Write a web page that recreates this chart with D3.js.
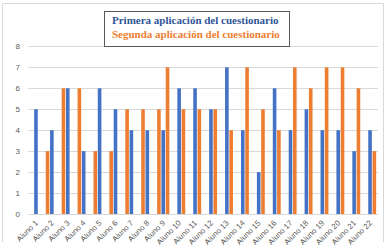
<!DOCTYPE html>
<html>
<head>
<meta charset="utf-8">
<script src="https://cdn.jsdelivr.net/npm/d3@7"></script>
<style>
  body { margin: 0; background: #fff; }
  svg { display: block; }
</style>
</head>
<body>
<div id="chart"></div>
<script>
// values
var alunos = ["Aluno 1", "Aluno 2", "Aluno 3", "Aluno 4", "Aluno 5", "Aluno 6", "Aluno 7", "Aluno 8",
    "Aluno 9", "Aluno 10", "Aluno 11", "Aluno 12", "Aluno 13", "Aluno 14", "Aluno 15", "Aluno 16",
    "Aluno 17", "Aluno 18", "Aluno 19", "Aluno 20", "Aluno 21", "Aluno 22"];
var primera = [5, 4, 6, 3, 6, 5, 4, 4, 4, 6, 6, 5, 7, 4, 2, 6, 4, 5, 4, 4, 3, 4];
var segunda = [3, 6, 6, 3, 3, 5, 5, 5, 7, 5, 5, 5, 4, 7, 5, 4, 7, 6, 7, 7, 6, 3];
var yTicks = [0, 1, 2, 3, 4, 5, 6, 7, 8];
var serieNames = ["Primera aplicación del cuestionario", "Segunda aplicación del cuestionario"];
// in the source the orange bars of the first 8 students sit one slot later, left of the blue bar
var cambio = 8;

var width = 386,
    height = 250,
    margin = {top: 46.4, right: 8, bottom: 36, left: 28};

var svg = d3.select("#chart")
    .append("svg")
    .attr("width", width)
    .attr("height", height)

// outer frame (no bottom edge visible)
svg.append("path")
    .attr("d", "M2.5,242 V3.5 H383.5 V242")
    .attr("fill", "none")
    .attr("stroke", "#d9d9d9")
    .attr("stroke-width", 1)

var x = d3.scaleBand()
    .domain(alunos)
    .range([margin.left, width - margin.right]);

var y = d3.scaleLinear()
    .domain([0, 8])
    .range([height - margin.bottom, margin.top]);

var side = d3.scaleBand()
    .domain(["antes", "centro", "despues"])
    .range([-6.45, 6.45]);

var bw = 3.6;

// gridlines
svg.append("g")
    .selectAll("line")
    .data(yTicks)
    .enter()
    .append("line")
    .attr("x1", margin.left)
    .attr("x2", width - margin.right)
    .attr("y1", function (d) { return Math.round(y(d)) + 0.5; })
    .attr("y2", function (d) { return Math.round(y(d)) + 0.5; })
    .attr("stroke", "#d9d9d9")
    .attr("stroke-width", 1)

svg.append("g")
    .selectAll("text")
    .data(yTicks)
    .enter()
    .append("text")
    .attr("x", 20)
    .attr("y", function (d) { return y(d); })
    .attr("dy", "0.35em")
    .attr("text-anchor", "end")
    .style("font-family", "'Liberation Sans', Arial, sans-serif")
    .style("font-size", "8px")
    .style("fill", "#595959")
    .text(function (d) { return d; })

svg.append("clipPath")
    .attr("id", "plot")
    .append("rect")
    .attr("x", margin.left)
    .attr("y", 0)
    .attr("width", width - margin.right - margin.left)
    .attr("height", height)

var bars = svg.append("g").attr("clip-path", "url(#plot)");

function center(cat, s) {
    return x(cat) + x.bandwidth() / 2 + side(s) + side.bandwidth() / 2;
}

bars.selectAll("rect.primera")
    .data(primera)
    .enter()
    .append("rect")
    .attr("class", "primera")
    .attr("x", function (d, i) { return center(alunos[i], "centro") - bw / 2; })
    .attr("y", function (d) { return y(d); })
    .attr("width", bw)
    .attr("height", function (d) { return y(0) - y(d); })
    .style("fill", "#4472C4")

bars.selectAll("rect.segunda")
    .data(segunda)
    .enter()
    .append("rect")
    .attr("class", "segunda")
    .attr("x", function (d, i) {
        var c = i < cambio ? center(alunos[i + 1], "antes") : center(alunos[i], "despues");
        return c - bw / 2;
    })
    .attr("y", function (d) { return y(d); })
    .attr("width", bw)
    .attr("height", function (d) { return y(0) - y(d); })
    .style("fill", "#ED7D31")

// x labels, rotated
svg.append("g")
    .selectAll("text")
    .data(alunos)
    .enter()
    .append("text")
    .attr("transform", function (d) {
        return "translate(" + (x(d) + x.bandwidth() / 2 + 2.5) + "," + (y(0) + 9.5) + ") rotate(-45)";
    })
    .attr("text-anchor", "end")
    .style("font-family", "'Liberation Sans', Arial, sans-serif")
    .style("font-size", "7.8px")
    .style("fill", "#595959")
    .text(function (d) { return d; })

// legend box
var legend = svg.append("g");

legend.append("rect")
    .attr("x", 104.5)
    .attr("y", 11.5)
    .attr("width", 185)
    .attr("height", 35)
    .style("fill", "#fff")
    .style("stroke", "#595959")
    .style("stroke-width", 1)

legend.selectAll("text")
    .data(serieNames)
    .enter()
    .append("text")
    .attr("x", 112)
    .attr("y", function (d, i) { return 24 + i * 13.5; })
    .style("font-family", "'Liberation Serif', 'Times New Roman', serif")
    .style("font-weight", "bold")
    .style("font-size", "11px")
    .style("fill", function (d, i) { return i == 0 ? "#2F5597" : "#ED7D31"; })
    .text(function (d) { return d; })
</script>
</body>
</html>
